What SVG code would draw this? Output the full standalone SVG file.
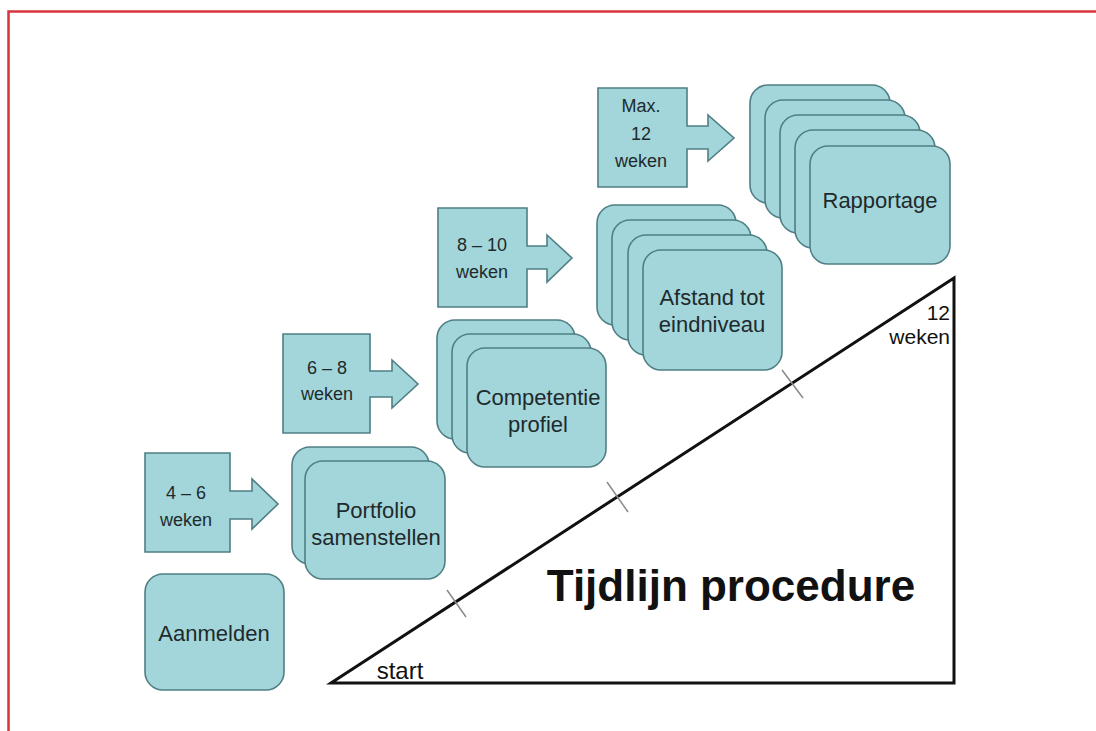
<svg xmlns="http://www.w3.org/2000/svg" width="1096" height="731" viewBox="0 0 1096 731">
<style>
.card{fill:#a3d6da;stroke:#4f7f84;stroke-width:1.6}
.call{fill:#a3d6da;stroke:#4f7f84;stroke-width:1.6}
.t{font-family:"Liberation Sans",Arial,sans-serif;fill:#1e2a2c;text-anchor:middle}
.s{font-size:18px}
.n{font-size:22px}
.tick{stroke:#8a8a8a;stroke-width:1.5}
</style>
<rect width="1096" height="731" fill="#ffffff"/>
<rect x="8.5" y="11.5" width="1100" height="740" fill="none" stroke="#d8343b" stroke-width="2.5"/>

<g id="timeline">
<path d="M331,683 L954,278 L954,683 Z" fill="none" stroke="#111" stroke-width="3" stroke-linejoin="miter"/>
<line class="tick" x1="447" y1="590" x2="466" y2="617"/>
<line class="tick" x1="607" y1="482" x2="628" y2="512"/>
<line class="tick" x1="782" y1="370" x2="803" y2="398"/>
<text class="t" x="400" y="679" font-size="24" style="fill:#111">start</text>
<text class="t" x="950" y="320" font-size="21" style="fill:#111;text-anchor:end">12</text>
<text class="t" x="950" y="344" font-size="21" style="fill:#111;text-anchor:end">weken</text>
<text class="t" x="731" y="601" font-size="44" font-weight="bold" style="fill:#111">Tijdlijn procedure</text>
</g>

<g id="aanmelden">
<rect class="card" x="145" y="574" width="139" height="116" rx="18"/>
<text class="t n" x="214" y="641">Aanmelden</text>
</g>

<g id="callout1">
<path class="call" d="M145,453 H230 V491 H252 V479 L278,504 L252,529 V519 H230 V552 H145 Z"/>
<text class="t s" x="186" y="499">4 – 6</text>
<text class="t s" x="186" y="526">weken</text>
</g>

<g id="portfolio">
<rect class="card" x="292" y="447" width="137" height="117" rx="18"/>
<rect class="card" x="305" y="461" width="140" height="118" rx="18"/>
<text class="t n" x="376" y="518">Portfolio</text>
<text class="t n" x="376" y="545">samenstellen</text>
</g>

<g id="callout2">
<path class="call" d="M283,334 H370 V371 H392 V360 L418,384 L392,408 V397 H370 V433 H283 Z"/>
<text class="t s" x="327" y="374">6 – 8</text>
<text class="t s" x="327" y="400">weken</text>
</g>

<g id="competentie">
<rect class="card" x="437" y="320" width="138" height="119" rx="18"/>
<rect class="card" x="452" y="334" width="139" height="119" rx="18"/>
<rect class="card" x="467" y="348" width="139" height="119" rx="18"/>
<text class="t n" x="538" y="405">Competentie</text>
<text class="t n" x="538" y="432">profiel</text>
</g>

<g id="callout3">
<path class="call" d="M438,208 H527 V246 H547 V235 L572,258 L547,282 V269 H527 V307 H438 Z"/>
<text class="t s" x="482" y="251">8 – 10</text>
<text class="t s" x="482" y="278">weken</text>
</g>

<g id="afstand">
<rect class="card" x="597" y="205" width="139" height="120" rx="18"/>
<rect class="card" x="612" y="220" width="139" height="120" rx="18"/>
<rect class="card" x="628" y="235" width="139" height="120" rx="18"/>
<rect class="card" x="643" y="250" width="139" height="120" rx="18"/>
<text class="t n" x="712" y="305">Afstand tot</text>
<text class="t n" x="712" y="332">eindniveau</text>
</g>

<g id="callout4">
<path class="call" d="M598,88 H687 V126 H708 V115 L734,138 L708,161 V149 H687 V187 H598 Z"/>
<text class="t s" x="641" y="112">Max.</text>
<text class="t s" x="641" y="140">12</text>
<text class="t s" x="641" y="167">weken</text>
</g>

<g id="rapportage">
<rect class="card" x="750" y="85" width="140" height="118" rx="18"/>
<rect class="card" x="765" y="100" width="140" height="118" rx="18"/>
<rect class="card" x="780" y="115" width="140" height="118" rx="18"/>
<rect class="card" x="795" y="130" width="140" height="118" rx="18"/>
<rect class="card" x="810" y="146" width="140" height="118" rx="18"/>
<text class="t n" x="880" y="208">Rapportage</text>
</g>

<g id="connectors"></g>
</svg>
